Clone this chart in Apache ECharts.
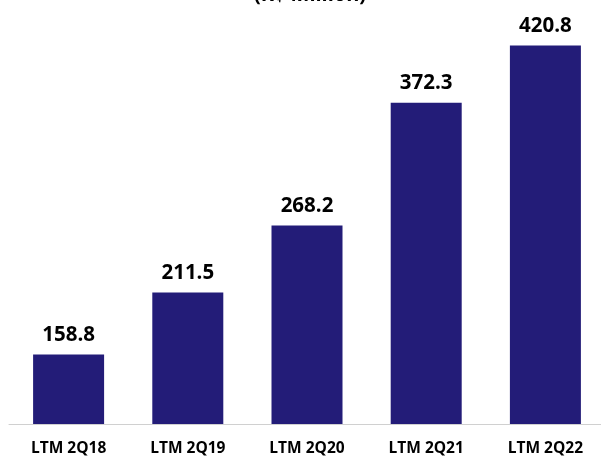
<!DOCTYPE html>
<html><head><meta charset="utf-8">
<script src="https://cdn.jsdelivr.net/npm/echarts@6/dist/echarts.min.js"></script>
<style>html,body{margin:0;padding:0;background:#fff;overflow:hidden}#c{width:610px;height:458px}</style>
</head><body><div id="c"></div>
<script>
const categories = ["LTM 2Q18", "LTM 2Q19", "LTM 2Q20", "LTM 2Q21", "LTM 2Q22"];
const values = [158.8, 211.5, 268.2, 372.3, 420.8];
const titleText = "(R$ Million)";

const chart = echarts.init(document.getElementById('c'));
chart.setOption({
  animation: false,
  title: {
    text: titleText, left: 305, textAlign: 'center', top: -20,
    textStyle: {fontFamily: 'Open Sans', fontWeight: 'bold', fontSize: 20, color: '#000'}
  },
  grid: {left: 9, width: 596, top: 11, height: 413, containLabel: false},
  xAxis: {
    type: 'category', data: categories,
    axisLine: {lineStyle: {color: '#d0d0d0', width: 1}},
    axisTick: {show: false},
    axisLabel: {color: '#000', fontFamily: 'Open Sans', fontWeight: 'bold', fontSize: 15.5, margin: 17}
  },
  yAxis: {type: 'value', min: 100, max: 450, show: false, splitLine: {show: false}},
  series: [{
    type: 'bar', data: values, barWidth: 71,
    itemStyle: {color: '#231C78'},
    label: {show: true, position: 'top', distance: 9, color: '#000',
      fontFamily: 'Open Sans', fontWeight: 'bold', fontSize: 20.5,
      formatter: p => p.value.toFixed(1)}
  }]
});
</script></body></html>
